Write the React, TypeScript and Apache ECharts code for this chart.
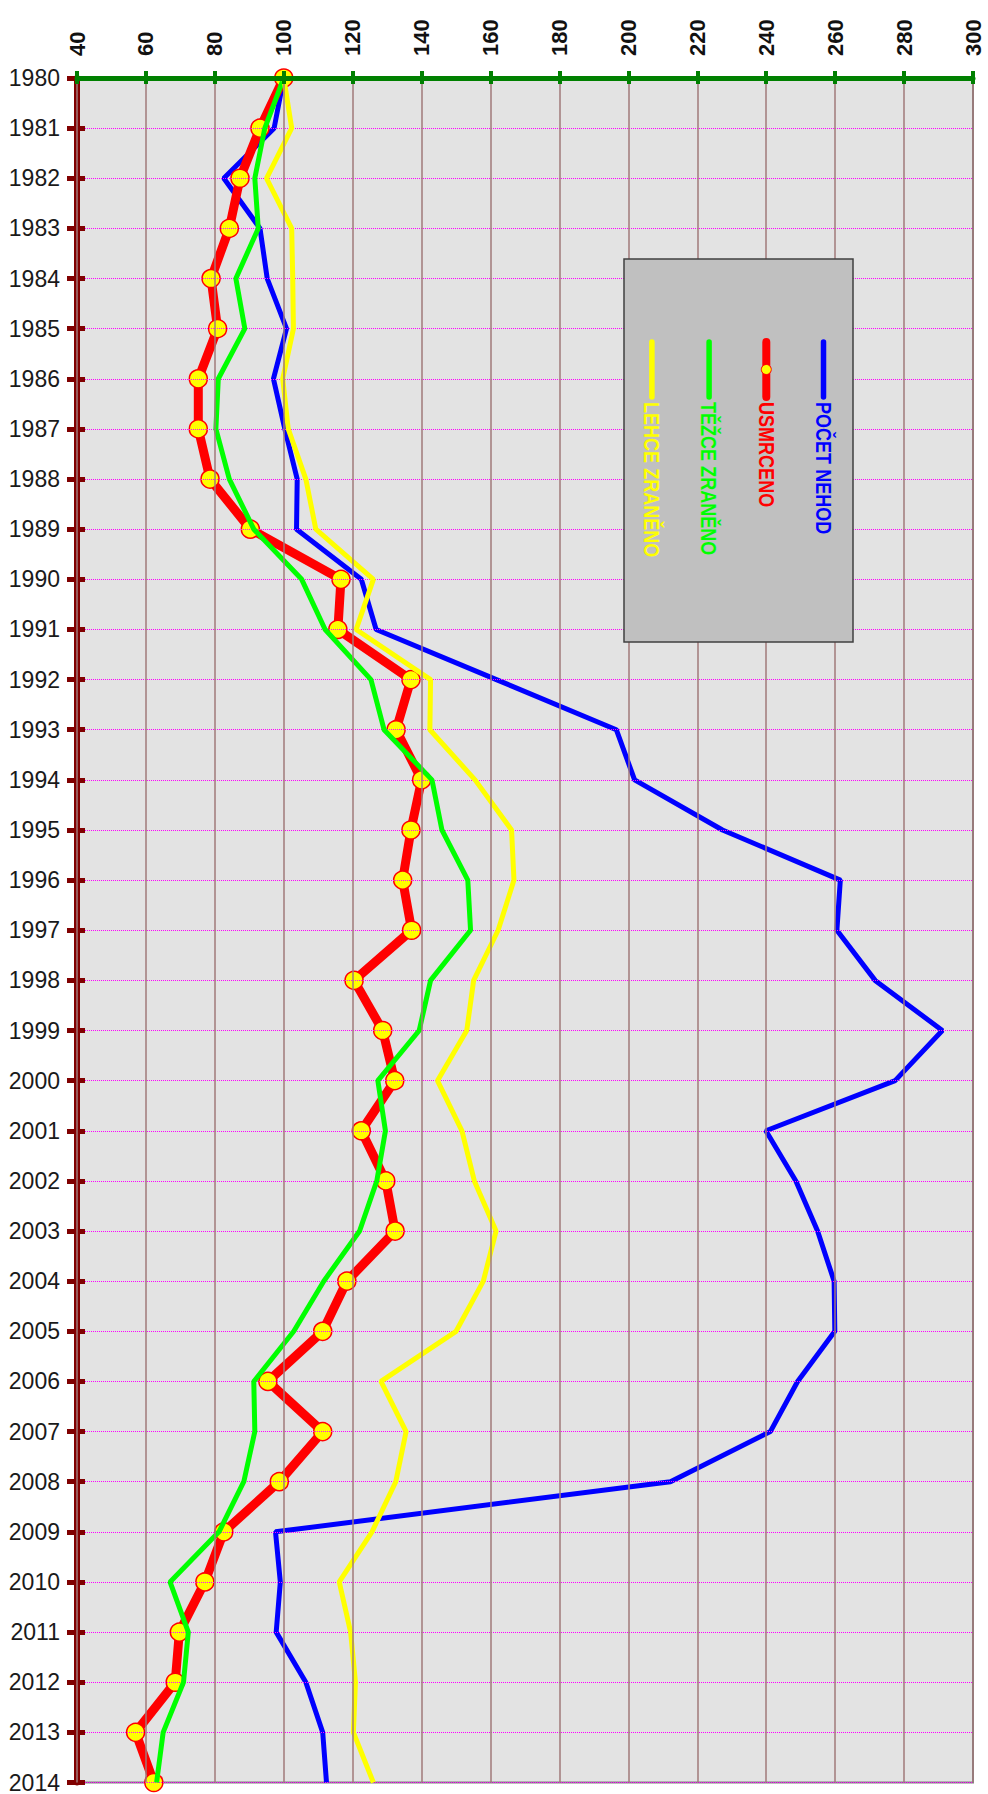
import React, { useEffect, useRef } from "react";
import * as echarts from "echarts";

const years = [
  "1980","1981","1982","1983","1984","1985","1986","1987","1988","1989",
  "1990","1991","1992","1993","1994","1995","1996","1997","1998","1999",
  "2000","2001","2002","2003","2004","2005","2006","2007","2008","2009",
  "2010","2011","2012","2013","2014",
];

const seriesNames = ["POČET NEHOD", "USMRCENO", "TĚŽCE ZRANĚNO", "LEHCE ZRANĚNO"];

const pocetNehod = [
  100, 97.2, 82.6, 93.1, 95.2, 100.8, 97.0, 100.3, 103.9, 103.7,
  122.5, 126.8, 161.7, 196.5, 201.8, 227.3, 261.5, 260.5, 271.6, 291.1,
  277.4, 239.9, 248.6, 254.9, 259.7, 259.9, 249.1, 241.2, 212.2, 97.6,
  99.0, 97.8, 106.4, 111.3, 112.4,
];

const usmrceno = [
  100, 93.1, 87.3, 84.2, 78.9, 80.8, 75.2, 75.2, 78.6, 90.3,
  116.6, 115.7, 136.9, 132.6, 140.0, 136.9, 134.5, 137.1, 120.4, 128.7,
  132.2, 122.5, 129.6, 132.3, 118.3, 111.3, 95.4, 111.3, 98.7, 82.6,
  77.1, 69.7, 68.5, 57.0, 62.3,
];

const tezceZraneno = [
  100, 94.5, 91.6, 92.6, 86.1, 88.7, 81.0, 80.3, 84.2, 91.3,
  105.2, 112.0, 125.3, 129.1, 143.0, 145.9, 153.4, 154.2, 142.6, 139.3,
  127.3, 129.5, 127.0, 122.0, 111.6, 102.9, 91.3, 91.6, 88.4, 81.2,
  67.0, 72.3, 70.9, 65.0, 63.1,
];

const lehceZraneno = [
  100, 102.3, 95.0, 102.3, 102.6, 102.8, 99.7, 101.3, 106.4, 109.3,
  126.0, 121.0, 142.6, 142.4, 155.5, 166.1, 166.8, 162.2, 155.1, 153.1,
  144.6, 151.7, 155.3, 161.6, 157.9, 150.0, 128.2, 135.5, 132.5, 125.6,
  116.1, 119.4, 120.8, 120.2, 126.0,
];

const xMin = 40;
const xMax = 300;
const xStep = 20;

const FONT = "'Liberation Sans', Arial, sans-serif";

const colors = ["#0000ff", "#ff0000", "#00ff00", "#ffff00"];

export default function App() {
  const ref = useRef<HTMLDivElement>(null);

  useEffect(() => {
    if (!ref.current) return;
    const chart = echarts.init(ref.current, undefined, { renderer: "svg" });

    const pairs = (vals: number[]) => vals.map((v, i) => [v, years[i]]);

    // legend drawn as graphic (rotated)
    const legX = 624, legY = 259, legW = 229, legH = 383;
    const itemX0 = 823.5, itemDX = -57.2;
    const lineTop = 342, lineBot = 397, textTop = 402;
    const legendGraphics: any[] = [
      {
        type: "rect",
        shape: { x: legX, y: legY, width: legW, height: legH },
        style: { fill: "#c0c0c0", stroke: "#404040", lineWidth: 1.5 },
        z: 100,
      },
    ];
    seriesNames.forEach((name, i) => {
      const cx = itemX0 + itemDX * i;
      legendGraphics.push({
        type: "line",
        shape: { x1: cx, y1: lineTop, x2: cx, y2: lineBot },
        style: { stroke: colors[i], lineWidth: i === 1 ? 8 : 5.5, lineCap: "round" },
        z: 101,
      });
      if (i === 1) {
        legendGraphics.push({
          type: "circle",
          shape: { cx, cy: (lineTop + lineBot) / 2, r: 5 },
          style: { fill: "#ffff00", stroke: "#ff0000", lineWidth: 1 },
          z: 102,
        });
      }
      legendGraphics.push({
        type: "text",
        x: cx,
        y: textTop,
        rotation: -Math.PI / 2,
        scaleX: 0.82,
        style: {
          text: name,
          fill: colors[i],
          font: `bold 22px ${FONT}`,
          align: "left",
          verticalAlign: "middle",
        },
        z: 102,
      });
    });

    const option: any = {
      animation: false,
      backgroundColor: "#ffffff",
      grid: {
        left: 77,
        top: 78,
        right: 15,
        bottom: 11,
        show: true,
        backgroundColor: "#e3e3e3",
        borderColor: "#808080",
        borderWidth: 2,
      },
      xAxis: [
        {
          type: "value",
          position: "top",
          min: xMin,
          max: xMax,
          interval: xStep,
          axisLine: { show: true, lineStyle: { color: "#008000", width: 5 } },
          axisTick: { show: true, length: 7, lineStyle: { color: "#008000", width: 4 } },
          axisLabel: {
            rotate: -90,
            margin: 22,
            color: "#111111",
            fontSize: 22,
            fontWeight: "bold",
            fontFamily: FONT,
          },
          splitLine: { show: true, lineStyle: { color: "#a07a7a", width: 1.5 } },
          z: 5,
        },
        {
          type: "value",
          position: "top",
          min: xMin,
          max: xMax,
          interval: xStep,
          axisLine: { show: false },
          axisTick: { show: true, inside: true, length: 6, lineStyle: { color: "#008000", width: 4 } },
          axisLabel: { show: false },
          splitLine: { show: false },
          z: 5,
        },
      ],
      yAxis: [
        {
          type: "category",
          position: "left",
          inverse: true,
          data: years,
          boundaryGap: false,
          axisLine: { show: true, lineStyle: { color: "#800000", width: 6 } },
          axisTick: { show: true, length: 10, lineStyle: { color: "#800000", width: 5 } },
          axisLabel: {
            margin: 17,
            color: "#1a1a1a",
            fontSize: 23,
            fontFamily: FONT,
          },
          splitLine: { show: true, lineStyle: { color: "#ff00ff", width: 1, type: "dotted" } },
          z: 4,
        },
        {
          type: "category",
          position: "left",
          inverse: true,
          data: years,
          boundaryGap: false,
          axisLine: { show: false },
          axisTick: { show: true, inside: true, length: 8, lineStyle: { color: "#800000", width: 5 } },
          axisLabel: { show: false },
          splitLine: { show: false },
          z: 4,
        },
      ],
      series: [
        {
          name: seriesNames[0],
          type: "line",
          data: pairs(pocetNehod),
          symbol: "none",
          lineStyle: { color: colors[0], width: 5 },
          z: 2,
        },
        {
          name: seriesNames[1],
          type: "line",
          data: pairs(usmrceno),
          symbol: "circle",
          symbolSize: 18,
          showSymbol: true,
          clip: false,
          lineStyle: { color: colors[1], width: 9 },
          itemStyle: { color: "#ffff00", borderColor: "#ff0000", borderWidth: 1.5 },
          z: 3,
        },
        {
          name: seriesNames[2],
          type: "line",
          data: pairs(tezceZraneno),
          symbol: "none",
          lineStyle: { color: colors[2], width: 5 },
          z: 4,
        },
        {
          name: seriesNames[3],
          type: "line",
          data: pairs(lehceZraneno),
          symbol: "none",
          lineStyle: { color: colors[3], width: 5 },
          z: 4,
        },
      ],
      graphic: legendGraphics,
    };

    chart.setOption(option);
    return () => chart.dispose();
  }, []);

  return (
    <div
      ref={ref}
      style={{ position: "absolute", left: 0, top: 0, width: 988, height: 1794 }}
    />
  );
}
